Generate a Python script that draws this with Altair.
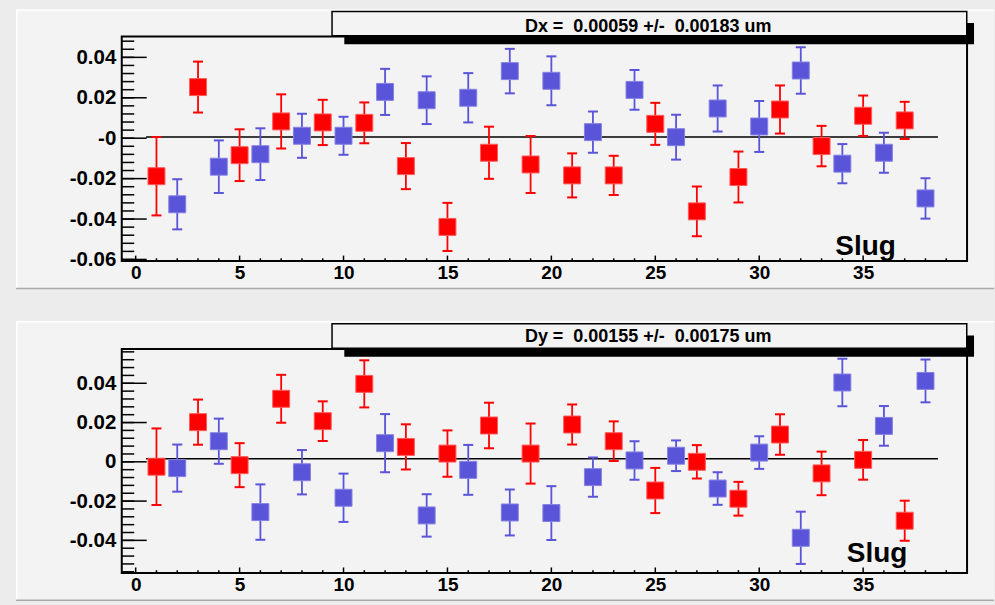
import altair as alt
import pandas as pd

# ---------------- data ----------------
slug = list(range(1, 39))
dx = [-0.0188, -0.0327, 0.0253, -0.0141, -0.0084, -0.0079, 0.0083, 0.0012, 0.0078, 0.0012,
      0.0076, 0.0229, -0.0138, 0.0188, -0.0439, 0.0200, -0.0072, 0.0332, -0.0130, 0.0284,
      -0.0184, 0.0030, -0.0184, 0.0239, 0.0071, 0.0005, -0.0362, 0.0147, -0.0192, 0.0058,
      0.0142, 0.0335, -0.0039, -0.0126, 0.0111, -0.0072, 0.0088, -0.0298]
dx_err = [0.0194, 0.0124, 0.0126, 0.0130, 0.0128, 0.0128, 0.0134, 0.0109, 0.0112, 0.0094,
          0.0101, 0.0114, 0.0114, 0.0118, 0.0119, 0.0122, 0.0129, 0.0110, 0.0141, 0.0121,
          0.0109, 0.0102, 0.0097, 0.0098, 0.0104, 0.0111, 0.0123, 0.0114, 0.0126, 0.0126,
          0.0119, 0.0115, 0.0100, 0.0097, 0.0100, 0.0099, 0.0092, 0.0100]
dy = [-0.0025, -0.0032, 0.0202, 0.0105, -0.0017, -0.0256, 0.0321, -0.0053, 0.0207, -0.0183,
      0.0397, 0.0095, 0.0076, -0.0273, 0.0042, -0.0041, 0.0185, -0.0258, 0.0042, -0.0261,
      0.0190, -0.0078, 0.0105, 0.0007, -0.0146, 0.0031, 0.0000, -0.0136, -0.0188, 0.0047,
      0.0139, -0.0387, -0.0059, 0.0404, 0.0010, 0.0183, -0.0300, 0.0412]
dy_err = [0.0195, 0.0120, 0.0115, 0.0115, 0.0112, 0.0141, 0.0122, 0.0113, 0.0101, 0.0123,
          0.0120, 0.0148, 0.0115, 0.0108, 0.0118, 0.0127, 0.0116, 0.0117, 0.0153, 0.0137,
          0.0102, 0.0100, 0.0101, 0.0098, 0.0115, 0.0078, 0.0085, 0.0083, 0.0086, 0.0083,
          0.0103, 0.0133, 0.0111, 0.0121, 0.0101, 0.0101, 0.0102, 0.0109]
series = ["odd" if s % 2 == 1 else "even" for s in slug]

dx_fit = 0.00059
dy_fit = 0.00155
fit_range = [0.5, 38.6]
dx_title = "Dx =\u00a0 0.00059 +/-\u00a0 0.00183 um"
dy_title = "Dy =\u00a0 0.00155 +/-\u00a0 0.00175 um"

x_major = [0, 5, 10, 15, 20, 25, 30, 35]
x_minor = [i for i in range(0, 40) if i % 5 != 0]
dx_major = [-0.06, -0.04, -0.02, 0.0, 0.02, 0.04]
dx_labels = ["-0.06", "-0.04", "-0.02", "-0", "0.02", "0.04"]
dy_major = [-0.04, -0.02, 0.0, 0.02, 0.04]
dy_labels = ["-0.04", "-0.02", "0", "0.02", "0.04"]
dx_minor = [round(-0.06 + 0.004 * i, 3) for i in range(0, 28)]
dy_minor = [round(-0.056 + 0.004 * i, 3) for i in range(0, 29)]

# ---------------- style ----------------
FONT = "Liberation Sans"
RED = "#ff0000"
BLUE = "#5954d8"
PAD = "#f3f3f3"
W = 847

color_scale = alt.Scale(domain=["odd", "even"], range=[RED, BLUE])
stroke_scale = alt.Scale(domain=["odd", "even"], range=["#ff5a5a", "#8682e4"])
xscale = alt.Scale(domain=[-0.67, 40], nice=False, zero=False)


def label_expr(values, labels):
    expr = "''"
    for v, l in zip(values, labels):
        expr = f"abs(datum.value - ({v})) < 0.001 ? '{l}' : " + expr
    return expr


def panel(vals, errs, fit, ydom, H, ymaj, ylab, ymin, title, title_y,
          slug_x, slug_y, pad_top, pad_bot, xlab_pad):
    ys = alt.Scale(domain=ydom, nice=False, zero=False)
    xaxis = alt.Axis(values=x_major, format="d", ticks=False, domain=False, grid=False,
                     tickSize=0, labelFont=FONT, labelFontSize=19, labelFontWeight="bold",
                     labelColor="black", labelPadding=xlab_pad, labelFlush=False,
                     labelOverlap=False, title="Slug", titleFont=FONT, titleFontSize=28,
                     titleFontWeight="bold", titleColor="black", titleX=slug_x,
                     titleY=slug_y, titleAlign="left", titleBaseline="alphabetic",
                     zindex=2)
    yaxis = alt.Axis(values=ymaj, labelExpr=label_expr(ymaj, ylab), ticks=False,
                     domain=False, grid=False, tickSize=0, labelFont=FONT,
                     labelFontSize=20.5, labelFontWeight="bold", labelColor="black",
                     labelPadding=6, labelFlush=False, labelOverlap=False, title=None,
                     zindex=2)
    X = lambda f="x": alt.X(f + ":Q", scale=xscale, axis=xaxis)
    Y = lambda f="y": alt.Y(f + ":Q", scale=ys, axis=yaxis)

    one = pd.DataFrame({"k": [0]})
    pts = pd.DataFrame({"x": slug, "y": vals, "e": errs, "c": series})
    pts["lo"] = pts["y"] - pts["e"]
    pts["hi"] = pts["y"] + pts["e"]

    def box(x1, x2, y1, y2, fill):
        return alt.Chart(one).mark_rect(fill=fill).encode(
            x=alt.value(x1), x2=alt.value(x2), y=alt.value(y1), y2=alt.value(y2))

    layers = []
    # pad background with bevel (fill-only rects so bounds stay exact)
    layers.append(box(-106, 874, pad_top, pad_bot, PAD))
    layers.append(box(-106, 874, pad_top, pad_top + 1.5, "white"))
    layers.append(box(-106, -104.5, pad_top, pad_bot, "white"))
    layers.append(box(-106, 874, pad_bot - 1.5, pad_bot, "#a9a9a9"))

    # inward ticks
    layers.append(alt.Chart(pd.DataFrame({"y": ymaj})).mark_rule(
        color="black", strokeWidth=1.5).encode(y=Y(), x=alt.value(0), x2=alt.value(25)))
    layers.append(alt.Chart(pd.DataFrame({"y": ymin})).mark_rule(
        color="black", strokeWidth=1.5).encode(y=Y(), x=alt.value(0), x2=alt.value(12.5)))
    layers.append(alt.Chart(pd.DataFrame({"x": x_major})).mark_rule(
        color="black", strokeWidth=1.5).encode(x=X(), y=alt.value(H), y2=alt.value(H - 5.5)))
    layers.append(alt.Chart(pd.DataFrame({"x": x_minor})).mark_rule(
        color="black", strokeWidth=1.5).encode(x=X(), y=alt.value(H), y2=alt.value(H - 2.8)))

    # fit line
    layers.append(alt.Chart(pd.DataFrame({"x": [fit_range[0]], "x2": [fit_range[1]],
                                          "y": [fit]})).mark_rule(
        color="black", strokeWidth=1.4).encode(x=X(), x2="x2:Q", y=Y()))

    # error bars
    col = alt.Color("c:N", scale=color_scale, legend=None)
    layers.append(alt.Chart(pts).mark_rule(strokeWidth=1.8).encode(
        x=X(), y=Y("lo"), y2="hi:Q", color=col))
    layers.append(alt.Chart(pts).mark_tick(orient="horizontal", size=10, thickness=2,
                                           opacity=1).encode(x=X(), y=Y("lo"), color=col))
    layers.append(alt.Chart(pts).mark_tick(orient="horizontal", size=10, thickness=2,
                                           opacity=1).encode(x=X(), y=Y("hi"), color=col))
    # markers
    layers.append(alt.Chart(pts).mark_square(size=289, opacity=1, filled=True,
                                             strokeWidth=1).encode(
        x=X(), y=Y(),
        fill=alt.Fill("c:N", scale=color_scale, legend=None),
        stroke=alt.Stroke("c:N", scale=stroke_scale, legend=None)))

    # frame
    layers.append(alt.Chart(one).mark_rect(fill="transparent", stroke="black",
                                           strokeWidth=2).encode(
        x=alt.value(0), x2=alt.value(W), y=alt.value(0), y2=alt.value(H)))

    # title box with shadow
    layers.append(box(223, 854, -13.5, 7.8, "black"))
    layers.append(alt.Chart(one).mark_rect(fill=PAD, stroke="black", strokeWidth=1.5).encode(
        x=alt.value(210.7), x2=alt.value(846.7), y=alt.value(-25.2), y2=alt.value(-0.7)))
    layers.append(alt.Chart(one).mark_text(text=title, font=FONT, fontSize=18,
                                           fontWeight="bold", color="black", align="center",
                                           baseline="alphabetic").encode(
        x=alt.value(527.5), y=alt.value(title_y)))

    return alt.layer(*layers).properties(width=W, height=H)


top = panel(dx, dx_err, dx_fit, [-0.0608, 0.0503], 225, dx_major, dx_labels, dx_minor,
            dx_title, -4.3, 714.5, -6.5, -27, 253.3, 2)
bottom = panel(dy, dy_err, dy_fit, [-0.0566, 0.0575], 224.5, dy_major, dy_labels, dy_minor,
               dy_title, -7.3, 726, -11, -28, 252.7, 3)

chart = alt.vconcat(top, bottom, spacing=88, bounds="flush").properties(
    padding={"left": 15, "top": 8, "right": 0, "bottom": 4}
).configure(background="#ececec").configure_view(stroke="transparent")

chart.save("out.html", embed_options={"renderer": "svg", "actions": False})
